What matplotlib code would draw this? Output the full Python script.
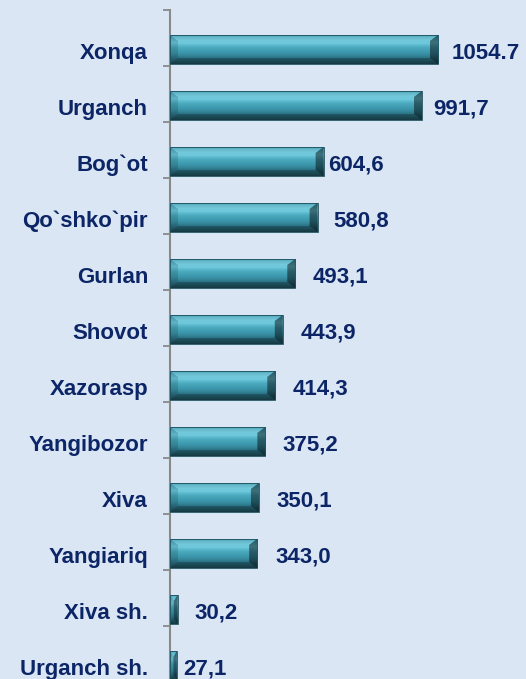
import numpy as np
import matplotlib
matplotlib.use("Agg")
import matplotlib.pyplot as plt
from matplotlib.patches import Polygon
from matplotlib.colors import LinearSegmentedColormap

categories = ['Xonqa', 'Urganch', 'Bog`ot', 'Qo`shko`pir', 'Gurlan', 'Shovot',
              'Xazorasp', 'Yangibozor', 'Xiva', 'Yangiariq', 'Xiva sh.', 'Urganch sh.']
values = [1054.7, 991.7, 604.6, 580.8, 493.1, 443.9, 414.3, 375.2, 350.1, 343.0, 30.2, 27.1]
value_labels = ['1054.7', '991,7', '604,6', '580,8', '493,1', '443,9', '414,3',
                '375,2', '350,1', '343,0', '30,2', '27,1']
# horizontal gap (pixels) between bar end and its value label
label_gap_px = [14, 11, 4, 16, 17, 18, 17, 17, 17, 18, 17, 6]

W, H, DPI = 526, 679, 100
PT = 72.0 / DPI  # points per pixel

plt.rcParams['font.family'] = ['Liberation Sans', 'DejaVu Sans']
TXT = '#0c2566'
BG = '#dae6f3'

fig = plt.figure(figsize=(W / DPI, H / DPI), dpi=DPI, facecolor=BG)
ax_left, ax_top_px, ax_bot_px = 170 / W, 10, 682
ax = fig.add_axes([ax_left, (H - ax_bot_px) / H, 1 - ax_left, (ax_bot_px - ax_top_px) / H])
ax.set_facecolor('none')

n = len(categories)
pos = np.arange(n)
bar_h = 0.52
bars = ax.barh(pos, values, height=bar_h, color='#46a3b8', edgecolor='none', zorder=2)

xmax = 1401
top_off = 0.705
ax.set_xlim(0, xmax)
ax.set_ylim(n - 1 + (1 - top_off), -top_off)

# gradient & bevels
cmap = LinearSegmentedColormap.from_list('bar', [
    (0.00, '#2b8296'), (0.10, '#4fb0c5'), (0.28, '#72cde0'), (0.45, '#4aa9be'),
    (0.65, '#3a93a8'), (0.82, '#2a6f80'), (1.00, '#1b4b57')])
grad = np.linspace(0, 1, 64).reshape(-1, 1)
px_per_x = (W - 170) / xmax
px_per_y = (ax_bot_px - ax_top_px) / n
for p in bars:
    x0, y0, w, h = p.get_x(), p.get_y(), p.get_width(), p.get_height()
    x1, y1 = x0 + w, y0 + h
    im = ax.imshow(grad, cmap=cmap, aspect='auto', extent=(x0, x1, y1, y0),
                   interpolation='bilinear', zorder=3)
    im.set_clip_path(p)
    bx = min(8 / px_per_x, w / 2)
    by = 6 / px_per_y
    top = [(x0, y0), (x1, y0), (x1 - bx, y0 + by), (x0 + bx, y0 + by)]
    bot = [(x0, y1), (x1, y1), (x1 - bx, y1 - by), (x0 + bx, y1 - by)]
    lft = [(x0, y0), (x0 + bx, y0 + by), (x0 + bx, y1 - by), (x0, y1)]
    rgt = [(x1, y0), (x1 - bx, y0 + by), (x1 - bx, y1 - by), (x1, y1)]
    ax.add_patch(Polygon(top, closed=True, facecolor='white', alpha=0.12, edgecolor='none', zorder=4))
    ax.add_patch(Polygon(bot, closed=True, facecolor='black', alpha=0.22, edgecolor='none', zorder=4))
    ax.add_patch(Polygon(lft, closed=True, facecolor='black', alpha=0.12, edgecolor='none', zorder=4))
    ax.add_patch(Polygon(rgt, closed=True, facecolor='black', alpha=0.45, edgecolor='none', zorder=4))
    ax.add_patch(Polygon([(x0, y0), (x1, y0), (x1, y1), (x0, y1)], closed=True,
                         facecolor='none', edgecolor='#1d4f5c', linewidth=0.6, zorder=5))

# axis styling
for s in ['top', 'right', 'bottom']:
    ax.spines[s].set_visible(False)
ax.spines['left'].set_color('#8a8a8a')
ax.spines['left'].set_linewidth(1.5)
ax.set_xticks([])
ax.set_yticks([])
ax.set_yticks(np.arange(n + 1) - top_off, minor=True)
ax.tick_params(axis='y', which='minor', length=7 * PT, width=1.3, color='#8a8a8a', direction='out')
ax.tick_params(axis='y', which='major', length=0)

fs = 16
for i, (c, v, lab, gap) in enumerate(zip(categories, values, value_labels, label_gap_px)):
    ax.annotate(c, xy=(0, i), xytext=(-22 * PT, -9.5 * PT), textcoords='offset points',
                ha='right', va='baseline', fontsize=fs, fontweight='bold', color=TXT,
                annotation_clip=False)
    ax.annotate(lab, xy=(v, i), xytext=(gap * PT, -9.5 * PT), textcoords='offset points',
                ha='left', va='baseline', fontsize=fs, fontweight='bold', color=TXT,
                annotation_clip=False)

fig.savefig('out.png', dpi=DPI, facecolor=BG)
